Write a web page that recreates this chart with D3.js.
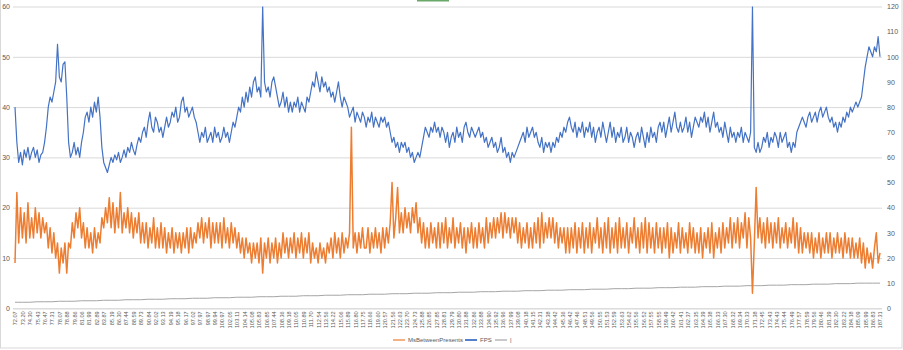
<!DOCTYPE html>
<html><head><meta charset="utf-8">
<script src="https://cdn.jsdelivr.net/npm/d3@7"></script>
<style>
body{margin:0;background:#fff;}
svg{display:block;font-family:"Liberation Sans",Arial,sans-serif;}
</style></head>
<body><svg id="c" width="903" height="350"></svg>
<script>
// category (time) labels shown every 4th sample
const labels = ["72.07","73.20","74.30","75.43","76.47","77.31","78.07","78.88","79.86","81.06","81.99","82.89","83.87","85.19","86.30","87.44","88.59","89.73","90.84","92.02","93.13","94.19","95.18","96.17","97.02","97.97","98.97","99.94","100.97","102.05","103.11","104.14","105.08","105.83","106.85","107.44","108.36","109.18","110.05","110.89","111.70","112.54","113.56","114.22","115.06","115.89","116.80","117.75","118.66","119.60","120.57","121.56","122.63","123.70","124.73","125.88","126.85","127.85","128.81","129.79","130.80","131.88","132.86","133.88","134.90","135.92","136.96","137.99","139.08","140.18","141.15","142.31","143.38","144.42","145.36","146.42","147.46","148.51","149.56","150.55","151.53","152.59","153.63","154.62","155.56","156.52","157.55","158.55","159.49","160.42","161.41","162.37","163.35","164.39","165.38","166.33","167.30","168.32","169.34","170.33","171.38","172.45","173.43","174.43","175.44","176.49","177.57","178.59","179.56","180.46","181.39","182.30","183.22","184.18","185.09","185.99","186.83","187.31"];
const labelStep = 4;

// MsBetweenPresents (left axis)
const msBetweenPresents = [
9,23,13,20,14,19,13,21,14,18,
14,20,15,19,14,18,15,17,12,16,
11,15,10,13,7,12,9,13,7,13,
12,17,14,19,16,20,14,17,12,16,
12,15,11,16,12,15,13,18,16,20,
17,22,16,21,15,20,16,23,15,19,
16,20,15,19,14,18,15,19,13,17,
13,17,12,16,13,18,12,16,12,17,
12,16,11,15,12,16,11,15,12,15,
11,15,12,16,11,16,12,15,13,17,
14,18,13,17,14,18,12,17,13,17,
13,17,12,18,13,16,12,17,13,16,
12,15,11,14,10,14,11,13,9,13,
10,13,9,14,7,13,10,14,9,13,
10,14,9,13,10,15,11,14,10,14,
11,15,10,14,11,15,10,14,11,15,
9,13,10,12,9,13,10,12,9,13,
11,14,10,15,11,14,10,15,11,14,
12,15,36,12,15,11,15,12,16,12,
12,16,11,15,12,16,12,15,11,16,
12,16,13,17,25,14,18,24,15,19,
15,20,16,19,15,20,17,21,15,18,
13,17,12,16,12,17,13,16,12,17,
12,17,13,18,12,16,13,18,12,16,
13,17,12,16,11,16,13,17,12,16,
12,17,13,16,12,18,13,17,14,18,
14,18,15,19,14,19,15,18,14,18,
15,18,13,17,12,16,13,17,12,16,
12,17,13,18,12,19,13,17,14,18,
14,18,13,17,12,16,13,16,11,16,
11,16,12,17,11,16,12,17,11,16,
12,17,11,16,13,18,12,16,11,17,
12,18,11,16,12,17,11,18,12,16,
12,17,11,16,13,18,12,16,11,17,
12,18,11,17,12,16,11,17,12,16,
11,16,12,17,10,16,11,15,12,17,
11,16,12,15,11,17,12,16,11,15,
11,16,10,15,12,16,11,17,10,15,
12,16,11,17,12,16,13,18,12,17,
13,18,12,17,14,19,12,18,14,3,
13,24,14,18,13,17,12,18,13,17,
12,17,13,18,12,16,13,17,12,16,
13,18,12,17,11,16,11,15,12,15,
11,15,10,14,11,15,10,14,11,15,
11,15,10,14,11,15,11,14,10,15,
11,14,10,14,10,13,10,14,9,13,
8,12,9,11,8,12,15,9,11];

// FPS (right axis)
const fps = [
80,66,58,62,57,63,60,64,59,62,
64,60,63,58,61,62,66,72,80,84,
82,86,90,105,92,90,97,98,84,66,
60,62,66,61,64,60,66,70,76,78,
74,80,76,82,78,84,76,64,58,56,
54,57,60,58,61,59,62,58,60,63,
60,64,62,66,63,61,65,68,66,70,
72,68,74,78,72,70,76,74,70,72,
68,72,76,72,74,78,76,80,74,76,
82,84,78,80,76,78,80,76,74,70,
66,70,68,72,66,68,70,66,72,68,
70,66,68,72,68,70,66,70,74,72,
76,80,78,84,80,86,82,88,84,90,
92,86,88,84,120,90,86,88,84,90,
92,88,84,80,82,86,80,84,78,82,
78,82,80,84,78,82,80,78,84,82,
86,90,88,94,90,86,92,88,90,86,
88,84,86,82,86,90,84,80,84,82,
80,76,78,80,74,78,76,74,78,76,
72,76,74,78,72,76,74,72,76,74,
76,72,74,70,66,68,64,66,62,66,
64,66,62,64,60,62,58,60,62,60,
64,68,72,70,68,72,70,74,70,72,
68,72,70,66,70,64,68,70,66,72,
68,70,66,72,74,70,68,72,70,68,
70,72,68,70,66,68,64,66,68,64,
66,62,64,68,62,64,60,62,58,62,
60,62,64,66,68,70,66,72,68,70,
72,68,70,66,64,68,62,66,64,66,
62,66,64,68,66,70,68,72,70,74,
76,72,70,74,68,72,70,74,68,72,
70,74,68,72,66,70,72,68,74,70,
66,70,74,68,72,66,70,68,72,66,
68,72,66,70,68,64,68,70,66,72,
68,64,70,66,72,68,70,66,72,74,
70,74,68,72,76,70,74,78,72,70,
74,70,72,76,70,74,68,72,76,74,
72,76,74,78,72,76,70,74,78,72,
74,70,72,68,74,70,66,72,68,70,
66,70,68,72,66,70,68,66,70,120,
64,62,66,62,64,68,66,70,64,68,
66,70,68,64,70,66,68,70,64,66,
62,66,64,70,72,74,76,74,72,76,
78,74,76,78,74,78,80,76,78,80,
76,74,76,72,74,70,74,72,76,74,
78,76,80,78,80,82,80,82,84,90,
96,100,104,102,100,104,102,108,100];

// "|" series (left axis), one value per labelled category
const barSeries = [1.2,1.2,1.2,1.3,1.3,1.3,1.4,1.4,1.4,1.5,1.5,1.5,1.6,1.6,1.6,1.7,1.7,1.7,1.8,1.8,1.8,1.9,1.9,1.9,2.0,2.0,2.0,2.1,2.1,2.1,2.2,2.2,2.2,2.3,2.3,2.3,2.4,2.4,2.4,2.5,2.5,2.5,2.6,2.6,2.6,2.7,2.7,2.7,2.8,2.8,2.8,2.9,2.9,2.9,3.0,3.0,3.0,3.1,3.1,3.1,3.2,3.2,3.2,3.3,3.3,3.3,3.4,3.4,3.4,3.5,3.5,3.5,3.6,3.6,3.6,3.7,3.7,3.7,3.8,3.8,3.8,3.9,3.9,3.9,4.0,4.0,4.0,4.1,4.1,4.1,4.2,4.2,4.2,4.3,4.3,4.3,4.4,4.4,4.4,4.5,4.5,4.5,4.6,4.6,4.6,4.7,4.7,4.7,4.8,4.8,4.8,4.9,4.9,4.9,5.0,5.0,5.0,5.0];

const leftTicks = [0,10,20,30,40,50,60];
const rightTicks = [0,10,20,30,40,50,60,70,80,90,100,110,120];
const seriesNames = ["MsBetweenPresents","FPS","|"];
const colors = ["#ED7D31","#4472C4","#A5A5A5"];

const svg = d3.select("#c");
const W = 903, H = 350;
const plotL = 13, plotR = 882, plotT = 6.5, plotB = 308.3;
const N = msBetweenPresents.length;

svg.append("rect").attr("x",0.5).attr("y",-1).attr("width",W-1.5).attr("height",H-1)
  .attr("fill","#fff").attr("stroke","#d9d9d9");
svg.append("rect").attr("x",417).attr("y",0).attr("width",32).attr("height",1.5).attr("fill","#6aa86a");

const x = d3.scaleLinear().domain([0, N-1]).range([15, 880]);
const yL = d3.scaleLinear().domain([0,60]).range([plotB, plotT]);
const yR = d3.scaleLinear().domain([0,120]).range([plotB, plotT]);

// gridlines
const grid = svg.append("g").attr("transform",`translate(${plotL},0)`)
  .call(d3.axisRight(yL).tickValues(leftTicks).tickSize(plotR-plotL).tickFormat(""));
grid.select(".domain").remove();
grid.selectAll("line").attr("stroke","#d9d9d9");

// left axis labels
const la = svg.append("g").attr("transform",`translate(${plotL},0)`)
  .call(d3.axisLeft(yL).tickValues(leftTicks).tickSize(0).tickPadding(3));
la.select(".domain").remove();
la.selectAll("text").attr("fill","#595959").style("font-size","7px");

// right axis labels
const ra = svg.append("g").attr("transform",`translate(${plotR},0)`)
  .call(d3.axisRight(yR).tickValues(rightTicks).tickSize(0).tickPadding(5));
ra.select(".domain").remove();
ra.selectAll("text").attr("fill","#595959").style("font-size","7px");

// x axis
const xa = svg.append("g").attr("transform",`translate(0,${plotB})`)
  .call(d3.axisBottom(x).tickValues(labels.map((d,j)=>j*labelStep))
    .tickFormat(d=>labels[d/labelStep]).tickSize(0));
xa.select(".domain").attr("stroke","#d9d9d9").attr("d",`M${plotL},0.5H${plotR}`);
xa.selectAll("text").attr("fill","#595959").style("font-size","5.6px")
  .attr("transform","rotate(-90)").attr("x",-3).attr("y",0).attr("dy","0.35em")
  .style("text-anchor","end");

svg.append("clipPath").attr("id","clip").append("rect")
  .attr("x",plotL).attr("y",plotT).attr("width",plotR-plotL).attr("height",plotB-plotT);
const g = svg.append("g").attr("clip-path","url(#clip)");

const lineMs = d3.line().x((d,i)=>x(i)).y(d=>yL(d));
const lineFps = d3.line().x((d,i)=>x(i)).y(d=>yR(d));
const lineBar = d3.line().x((d,j)=>x(j*labelStep)).y(d=>yL(d));

g.append("path").datum(barSeries).attr("d",lineBar).attr("fill","none").attr("stroke",colors[2]).attr("stroke-width",1);
g.append("path").datum(msBetweenPresents).attr("d",lineMs).attr("fill","none").attr("stroke",colors[0]).attr("stroke-width",1.5).attr("stroke-linejoin","round");
g.append("path").datum(fps).attr("d",lineFps).attr("fill","none").attr("stroke",colors[1]).attr("stroke-width",1.2).attr("stroke-linejoin","round");

// legend
const legX = [393, 465, 495];
const leg = svg.append("g").attr("transform","translate(0,340)");
seriesNames.forEach((n,k)=>{
  leg.append("line").attr("x1",legX[k]).attr("x2",legX[k]+12).attr("y1",0).attr("y2",0)
    .attr("stroke",colors[k]).attr("stroke-width",k===1?1.8:1.2);
  leg.append("text").attr("x",legX[k]+15).attr("y",0).attr("dy","0.35em")
    .attr("fill","#595959").style("font-size","6px").text(n);
});
</script></body></html>
